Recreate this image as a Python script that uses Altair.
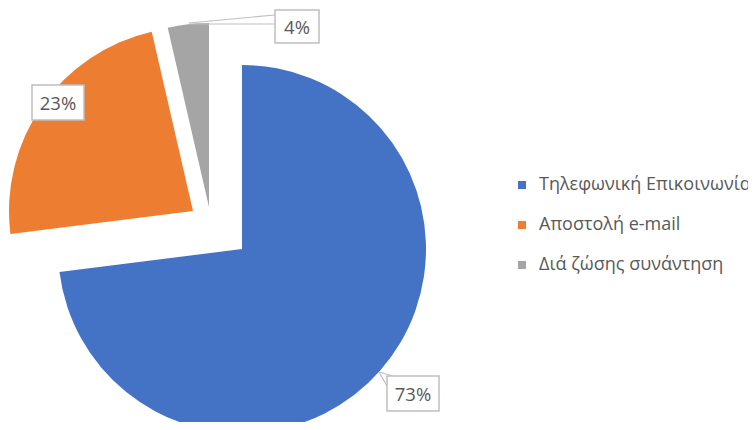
import altair as alt
import pandas as pd

# ---- data ----
categories = ["Τηλεφωνική Επικοινωνία", "Αποστολή e-mail", "Διά ζώσης συνάντηση"]
values = [73.0, 23.4, 3.6]
colors = ["#4472C4", "#ED7D31", "#A5A5A5"]

df = pd.DataFrame({"category": categories, "value": values, "order": list(range(len(categories)))})

# ---- layout / style (not data) ----
RADIUS = 184
SLICE_CENTER = {  # exploded slice apex positions (px in plot area)
    categories[0]: (234, 241),
    categories[1]: (185, 203),
    categories[2]: (201, 199),
}
LABEL_BOX = {  # x, x2, y, y2
    categories[0]: (379, 431, 368, 403),
    categories[1]: (24, 76, 77, 112),
    categories[2]: (267, 311, 2, 35),
}
POINTERS = [  # callout pointer strokes (x, y, x2, y2)
    (181, 15, 267, 7),
    (181, 16, 267, 16),
    (371, 364, 379, 378),
    (371, 364, 385, 368),
]
FONT = "Open Sans"
TEXT_COLOR = "#595959"
BORDER = "#BFBFBF"

base = (
    alt.Chart(df)
    .transform_joinaggregate(total="sum(value)")
    .transform_window(cum="sum(value)", sort=[alt.SortField("order")], frame=[None, 0])
    .transform_calculate(
        start="2*PI*(datum.cum-datum.value)/datum.total",
        end="2*PI*datum.cum/datum.total",
        label="format(datum.value/datum.total*100, '.0f') + '%'",
    )
)

color = alt.Color(
    "category:N",
    scale=alt.Scale(domain=categories, range=colors),
    sort=categories,
    legend=alt.Legend(
        title=None,
        orient="none",
        legendX=505,
        legendY=168,
        symbolType="square",
        symbolSize=64,
        symbolStrokeWidth=0,
        labelFontSize=18,
        labelFont=FONT,
        labelColor=TEXT_COLOR,
        labelOffset=8,
        rowPadding=22,
        labelLimit=0,
    ),
)

layers = []
for cat in categories:
    cx, cy = SLICE_CENTER[cat]
    layers.append(
        base.transform_filter(alt.datum.category == cat)
        .mark_arc(radius=RADIUS)
        .encode(
            theta=alt.Theta("start:Q", scale=None),
            theta2="end:Q",
            color=color,
            x=alt.value(cx),
            y=alt.value(cy),
        )
    )

for x, y, x2, y2 in POINTERS:
    layers.append(
        alt.Chart(df.head(1))
        .mark_rule(color=BORDER, strokeWidth=1.2)
        .encode(x=alt.value(x), y=alt.value(y), x2=alt.value(x2), y2=alt.value(y2))
    )

for cat in categories:
    x, x2, y, y2 = LABEL_BOX[cat]
    layers.append(
        base.transform_filter(alt.datum.category == cat)
        .mark_rect(fill="white", stroke=BORDER, strokeWidth=1.5)
        .encode(x=alt.value(x), x2=alt.value(x2), y=alt.value(y), y2=alt.value(y2))
    )
    layers.append(
        base.transform_filter(alt.datum.category == cat)
        .mark_text(font=FONT, fontSize=18.5, color=TEXT_COLOR, align="center", baseline="middle")
        .encode(text="label:N", x=alt.value((x + x2) / 2), y=alt.value((y + y2) / 2 + 1))
    )

chart = (
    alt.layer(*layers)
    .properties(width=740, height=414, padding=0, autosize=alt.AutoSizeParams(type="none"))
    .configure_view(stroke=None)
)

chart.save("out.html", embed_options={"renderer": "svg", "actions": False})
